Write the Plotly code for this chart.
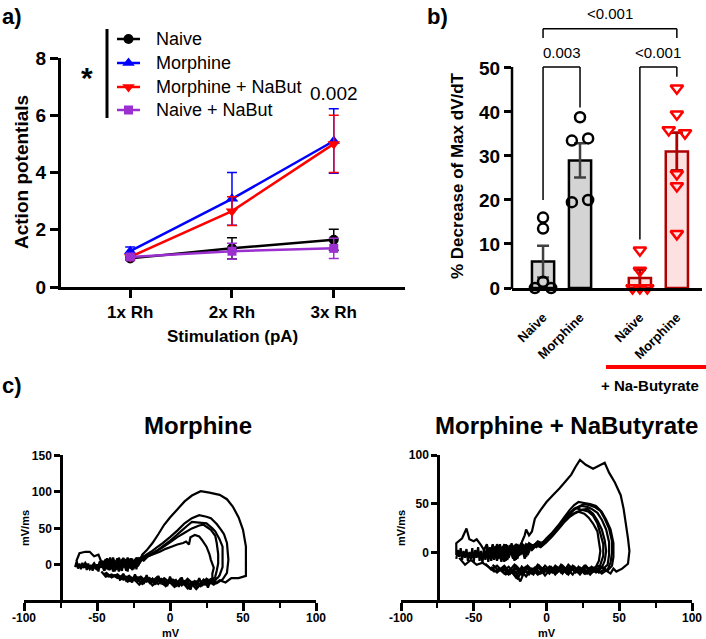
import plotly.graph_objects as go

W, H = 706, 639
def P(x): return x / W
def Q(y): return 1 - y / H

FONT = "Liberation Sans, Arial, Helvetica, sans-serif"

# ---------------- Panel a data ----------------
stim_pos = [1, 2, 3]
stim_labels = ["1x Rh", "2x Rh", "3x Rh"]
naive_y = [1.0, 1.35, 1.65]
naive_err = [0.05, 0.37, 0.37]
morph_y = [1.25, 3.08, 5.1]
morph_err = [0.15, 0.92, 1.13]
morphnb_y = [1.05, 2.65, 5.0]
morphnb_err = [0.1, 0.5, 1.0]
naivenb_y = [1.05, 1.25, 1.35]
naivenb_err = [0.05, 0.28, 0.35]

# ---------------- Panel b data ----------------
bar_pos = [1, 2, 3.62, 4.62]
bar_labels = ["Naive", "Morphine", "Naive", "Morphine"]
bar_mean = [6.0, 29.0, 2.3, 31.0]
bar_sem = [3.6, 3.9, 1.9, 4.3]
naive_pts_x = [0.78, 1.0, 1.22, 1.0, 1.0]
naive_pts_y = [0.0, 1.4, 0.0, 13.5, 16.0]
morph_pts_x = [1.78, 2.22, 2.0, 1.78, 2.22]
morph_pts_y = [33.5, 34.0, 38.8, 19.5, 20.0]
naivenb_pts_x = [3.62, 3.62, 3.42, 3.62, 3.82]
naivenb_pts_y = [8.6, 4.0, 0.0, 0.0, 0.0]
morphnb_pts_x = [4.62, 4.62, 4.40, 4.84, 4.62, 4.62, 4.62]
morphnb_pts_y = [45.4, 39.5, 35.9, 35.2, 25.9, 23.2, 12.3]

# ---------------- Panel c data (phase plots, mV vs mV/ms) ----------------
mv_ticks = [-100, -50, 0, 50, 100]
mv_tick_text = ["-100", "-50", "0", "50", "100"]

L0_x = [-65,-64,-63,-62,-61,-60,-59,-58,-57,-56,-55,-54,-53,-52,-51,-50,-49,-48,-47,-46,-45,-44,-43,-42,-41,-40,-39,-38,-37,-36,-35,-34,-33,-32,-31,-30,-29,-28,-27,-26,-25,-24,-23,-22,-21]
L0_y = [-3,4,-5,2,-6,3,-4,1,-7,2,-5,0,-8,3,-6,1,-9,4,-4,6,-8,5,-6,8,-7,4,-9,7,-5,9,-8,5,-7,10,-4,6,-9,8,-5,9,-3,7,-6,10,2]

L1_x = [-63,-64,-62,-58,-55,-52,-49,-47,-45,-43,-41,-39,-37,-35,-33,-31,-29,-27,-25,-23,-21,-19,-16,-12,-8,-4,0,5,10,15,21,27,34,39,43,47,50,52,52,52,47,42,38,34,30,26,22,18,14,10,6,2,-2,-6,-10,-14,-18,-22,-26,-30,-34,-38,-42,-45]
L1_y = [-3,6,16,18,18,12,14,4,-6,9,-4,8,-7,10,-3,7,-6,9,-2,10,4,14,20,30,42,55,65,76,87,95,101,99,96,90,80,65,48,25,-2,-15,-18,-18,-24,-21,-27,-22,-28,-23,-30,-22,-26,-20,-25,-19,-24,-18,-23,-17,-22,-16,-19,-14,-16,-11]

L2_x = [-60,-58,-55,-52,-50,-48,-46,-44,-42,-40,-38,-36,-34,-32,-30,-28,-26,-24,-22,-20,-17,-13,-9,-5,0,5,10,15,20,25,28,32,35,37,39,40,39,36,32,28,24,20,16,12,8,4,0,-4,-8,-12,-16,-20,-24,-28,-32,-36,-40,-44]
L2_y = [-4,3,-6,2,-7,5,-3,8,-6,6,-2,9,-5,6,-8,5,-4,8,0,10,13,18,24,30,38,47,57,64,68,66,64,56,48,42,30,7,-11,-20,-25,-20,-27,-21,-26,-19,-28,-21,-24,-18,-26,-19,-23,-16,-21,-15,-20,-13,-17,-10]

L3_x = [-47,-45,-43,-41,-39,-37,-35,-33,-31,-29,-27,-25,-23,-21,-19,-16,-12,-8,-4,0,4,8,12,15,20,25,29,31,34,36,36,36,34,33,29,25,21,17,13,9,5,1,-3,-7,-11,-15,-19,-23,-27,-31,-35]
L3_y = [2,-8,5,-3,10,-5,4,-8,8,-2,6,-6,9,2,8,12,16,21,27,33,40,47,54,59,58,57,50,46,35,25,5,-3,-14,-17,-24,-19,-29,-22,-32,-23,-27,-21,-29,-20,-25,-19,-26,-18,-22,-17,-21]

L4_x = [-46,-44,-42,-40,-38,-36,-34,-32,-30,-28,-26,-24,-22,-20,-17,-13,-9,-5,0,5,10,15,20,23,28,31,32,33,33,32,31,27,23,19,15,11,7,3,-1,-5,-9,-13,-17,-21,-25,-29,-33]
L4_y = [-2,7,-7,3,-9,7,-1,9,-4,7,-7,4,-2,8,10,14,19,24,31,38,44,50,54,55,48,40,30,15,2,-8,-16,-26,-20,-30,-24,-27,-19,-30,-22,-26,-17,-24,-18,-27,-19,-23,-16]

L5_x = [-45,-43,-41,-39,-37,-35,-33,-31,-29,-27,-25,-23,-21,-18,-15,-11,-7,-3,1,5,9,11,13,14,17,20,22,25,27,28,30,29,29,26,22,18,15,12,8,4,0,-4,-8,-12,-16,-20,-24,-28,-32,-36,-40,-44,-47]
L5_y = [3,-5,10,-3,5,-9,8,-1,10,-5,6,-3,9,6,12,15,18,22,25,28,30,32,28,38,41,39,34,25,15,7,-4,-12,-18,-22,-24,-33,-26,-32,-22,-29,-20,-27,-21,-28,-19,-24,-16,-21,-14,-18,-13,-16,-9]

L6_x = [32,30,28,26,24,22,20,18,16,14,12,10,8,6,4,2,0,-2,-4,-6,-8,-10,-12,-14,-16,-18,-20,-22,-24,-26,-28,-30,-32,-34,-36]
L6_y = [-17,-26,-19,-31,-21,-27,-18,-29,-22,-34,-20,-28,-17,-30,-21,-26,-16,-29,-20,-25,-15,-27,-19,-24,-14,-26,-18,-22,-13,-24,-16,-21,-12,-19,-14]

R0_x = [-62,-61,-60,-59,-58,-57,-56,-55,-54,-53,-52,-51,-50,-49,-48,-47,-46,-45,-44,-43,-42,-41,-40,-39,-38,-37,-36]
R0_y = [-6,3,-4,5,-7,2,-5,4,-8,1,-6,5,-9,3,-5,6,-8,2,-10,4,-7,5,-9,6,-6,9,-3]

R1_x = [-62,-62,-58,-55,-53,-50,-48,-45,-43,-41,-39,-37,-35,-33,-31,-29,-27,-25,-23,-21,-19,-17,-15,-14,-12,-10,-8,-4,0,5,9,13,17,20,23,27,32,36,40,43,47,51,53,54,56,57,56,52,48,46,44,40,36,32,28,24,20,16,12,8,4,0,-4,-8,-12,-16,-20,-24,-28,-32,-36,-40,-44,-48,-52,-56,-60]
R1_y = [-2,10,15,25,14,12,14,8,3,9,-3,7,-5,8,-2,9,-4,7,0,9,5,11,18,24,18,22,35,44,52,60,66,73,80,88,95,90,86,89,92,82,72,59,45,35,15,2,-11,-16,-19,-16,-21,-17,-20,-15,-21,-16,-20,-14,-19,-15,-20,-16,-21,-15,-22,-17,-26,-19,-22,-17,-19,-14,-10,-12,-7,-12,-5]

R2_x = [-40,-38,-36,-34,-32,-30,-28,-26,-24,-22,-20,-18,-16,-14,-12,-9,-6,-3,0,4,8,12,16,19,22,26,30,34,38,41,44,46,46,45,42,38,34,30,26,22,18,14,10,6,2,-2,-6,-10,-14,-18,-22,-26,-30,-34,-38,-42]
R2_y = [2,-8,6,-4,9,-7,5,-3,10,-5,7,-2,9,3,10,7,12,10,15,21,28,36,44,49,52,51,50,48,42,34,24,10,-4,-13,-18,-14,-20,-15,-21,-14,-22,-16,-20,-13,-21,-15,-22,-16,-24,-17,-21,-14,-19,-13,-17,-11]

R3_x = [-39,-37,-35,-33,-31,-29,-27,-25,-23,-21,-19,-17,-15,-13,-10,-7,-4,-1,3,7,11,15,19,23,26,29,33,37,40,43,45,45,44,42,38,34,30,26,22,18,14,10,6,2,-2,-6,-10,-14,-18,-22,-26,-30,-34,-38]
R3_y = [-6,8,-3,6,-9,7,-1,8,-6,5,-3,10,1,8,4,10,8,12,18,25,32,39,45,48,50,49,47,43,35,25,12,0,-10,-17,-21,-15,-22,-16,-20,-13,-21,-15,-22,-14,-20,-14,-21,-15,-29,-18,-22,-15,-20,-14]

R4_x = [-38,-36,-34,-32,-30,-28,-26,-24,-22,-20,-18,-16,-14,-11,-8,-5,-2,2,6,10,14,18,21,24,28,31,35,38,41,43,43,42,39,35,31,27,23,19,15,11,7,3,-1,-5,-9,-13,-17,-21,-25,-29,-33,-37]
R4_y = [4,-7,9,-2,7,-8,6,-1,8,-6,6,-1,9,6,9,7,11,16,23,30,37,43,46,48,47,45,41,34,24,11,-2,-12,-16,-13,-19,-14,-22,-15,-19,-13,-20,-16,-23,-15,-19,-13,-22,-16,-20,-13,-18,-12]

R5_x = [-37,-35,-33,-31,-29,-27,-25,-23,-21,-19,-17,-15,-13,-10,-7,-4,0,4,8,12,16,20,24,28,32,35,38,40,41,40,38,35,31,27,23,19,15,11,7,3,-1,-5,-9,-13,-17,-21,-25,-29,-33]
R5_y = [-4,7,-6,4,-9,8,-2,6,-7,8,0,7,-2,8,6,10,13,19,26,33,40,46,44,45,40,33,24,13,2,-8,-15,-19,-14,-21,-15,-18,-12,-21,-14,-19,-13,-21,-16,-20,-14,-25,-17,-21,-15]

R6_x = [-36,-34,-32,-30,-28,-26,-24,-22,-20,-18,-16,-14,-12,-9,-6,-3,1,5,9,13,17,21,25,29,32,35,37,39,39,37,35,31,27,23,19,15,11,7,3,-1,-5,-9,-13,-17,-21,-25,-29]
R6_y = [3,-8,7,-3,9,-5,5,-8,9,-2,6,-4,8,5,10,9,14,20,27,34,39,42,44,42,38,30,20,9,-3,-12,-17,-20,-13,-19,-14,-22,-16,-20,-14,-19,-13,-22,-15,-19,-13,-21,-14]

R7_x = [-35,-33,-31,-29,-27,-25,-23,-21,-19,-17,-15,-13,-10,-7,-4,0,4,8,12,16,19,22,26,29,32,35,36,37,36,34,30,26,22,18,14,10,6,2,-2,-6,-10,-14,-18,-22,-26]
R7_y = [-5,6,-4,8,-7,3,-5,9,-1,7,-6,9,3,8,6,11,17,24,31,37,40,42,40,36,30,22,12,2,-8,-14,-18,-13,-20,-14,-18,-12,-21,-15,-18,-12,-20,-14,-18,-12,-19]

left_loops = [(L0_x, L0_y), (L1_x, L1_y), (L2_x, L2_y), (L3_x, L3_y), (L4_x, L4_y),
              (L5_x, L5_y), (L6_x, L6_y)]
right_loops = [(R0_x, R0_y), (R1_x, R1_y), (R2_x, R2_y), (R3_x, R3_y), (R4_x, R4_y),
               (R5_x, R5_y), (R6_x, R6_y), (R7_x, R7_y)]

# ---------------- Figure ----------------
fig = go.Figure()

series = [
    ("Naive", naive_y, naive_err, "black", "circle", 10),
    ("Morphine", morph_y, morph_err, "#0000ff", "triangle-up", 11),
    ("Morphine + NaBut", morphnb_y, morphnb_err, "#ff0000", "triangle-down", 11),
    ("Naive + NaBut", naivenb_y, naivenb_err, "#9b2fd0", "square", 9),
]
for name, ys, es, col, sym, sz in series:
    fig.add_trace(go.Scatter(
        x=stim_pos, y=ys, name=name, mode="lines+markers",
        line=dict(color=col, width=2.5),
        marker=dict(symbol=sym, size=sz, color=col),
        error_y=dict(type="data", array=es, visible=True, color=col, thickness=1.5, width=5),
        xaxis="x", yaxis="y", showlegend=False))

# panel b bars
fig.add_trace(go.Bar(
    x=bar_pos, y=bar_mean, width=0.6,
    marker=dict(color=["#d4d4d4", "#d4d4d4", "#fde0e0", "#fde0e0"],
                line=dict(color=["black", "black", "#b00000", "#b00000"], width=2.5)),
    error_y=dict(type="data", array=bar_sem, visible=True, color="#404040", thickness=2.5, width=6),
    xaxis="x2", yaxis="y2", showlegend=False))
fig.add_trace(go.Scatter(
    x=bar_pos[2:], y=bar_mean[2:], mode="markers", marker=dict(size=1, color="rgba(0,0,0,0)"),
    error_y=dict(type="data", array=bar_sem[2:], visible=True, color="#b00000", thickness=2.5, width=6),
    xaxis="x2", yaxis="y2", showlegend=False))

for xs, ys in [(naive_pts_x, naive_pts_y), (morph_pts_x, morph_pts_y)]:
    fig.add_trace(go.Scatter(x=xs, y=ys, mode="markers",
                             marker=dict(symbol="circle-open", size=10, color="black", line=dict(width=2.5)),
                             xaxis="x2", yaxis="y2", showlegend=False, cliponaxis=False))
for xs, ys in [(naivenb_pts_x, naivenb_pts_y), (morphnb_pts_x, morphnb_pts_y)]:
    fig.add_trace(go.Scatter(x=xs, y=ys, mode="markers",
                             marker=dict(symbol="triangle-down-open", size=11, color="#ff0000", line=dict(width=2.5)),
                             xaxis="x2", yaxis="y2", showlegend=False, cliponaxis=False))

for xs, ys in left_loops:
    fig.add_trace(go.Scatter(x=xs, y=ys, mode="lines", line=dict(color="black", width=2.2, simplify=False),
                             xaxis="x3", yaxis="y3", showlegend=False))
for xs, ys in right_loops:
    fig.add_trace(go.Scatter(x=xs, y=ys, mode="lines", line=dict(color="black", width=2.2, simplify=False),
                             xaxis="x4", yaxis="y4", showlegend=False))

# legend for panel a, drawn on a hidden pixel-unit overlay axis
legend_rows = [39, 63, 87, 110]
for (name, ys, es, col, sym, sz), row in zip(series, legend_rows):
    fig.add_trace(go.Scatter(x=[117, 140], y=[row, row], mode="lines", line=dict(color=col, width=2.5),
                             xaxis="x5", yaxis="y5", showlegend=False, hoverinfo="skip"))
    fig.add_trace(go.Scatter(x=[128.5], y=[row], mode="markers", marker=dict(symbol=sym, size=sz, color=col),
                             xaxis="x5", yaxis="y5", showlegend=False, hoverinfo="skip", cliponaxis=False))

ax_common = dict(showgrid=False, zeroline=False, showline=True, linecolor="black", ticks="outside",
                 tickcolor="black", automargin=False)

fig.update_layout(
    template="none",
    width=W, height=H, margin=dict(l=0, r=0, t=0, b=0, pad=0), autosize=False,
    paper_bgcolor="white", plot_bgcolor="rgba(0,0,0,0)",
    font=dict(family=FONT, color="black"),
    barmode="overlay", showlegend=False,
    xaxis=dict(**ax_common, domain=[P(61), P(405)], range=[0.32, 3.7], anchor="y",
               tickvals=stim_pos, ticktext=stim_labels, linewidth=3, tickwidth=3, ticklen=8,
               tickfont=dict(size=17, weight="bold")),
    yaxis=dict(**ax_common, domain=[Q(287), Q(58)], range=[0, 8], anchor="x",
               tickvals=[0, 2, 4, 6, 8], linewidth=3, tickwidth=3, ticklen=8,
               tickfont=dict(size=19, weight="bold")),
    xaxis2=dict(showgrid=False, zeroline=False, showline=True, linecolor="black", linewidth=2.5,
                automargin=False,
                domain=[P(512), P(702)], range=[0.16, 5.3], anchor="y2",
                tickvals=bar_pos, ticktext=bar_labels, tickangle=-45, ticks="",
                ticklabelstandoff=14,
                tickfont=dict(size=13, weight="bold")),
    yaxis2=dict(showgrid=False, zeroline=False, showline=False, ticks="outside", tickcolor="black",
                automargin=False,
                domain=[Q(288), Q(20)], range=[0, 60.9], anchor="x2",
                tickvals=[0, 10, 20, 30, 40, 50], tickwidth=2.5, ticklen=7,
                tickfont=dict(size=19, weight="bold")),
    xaxis3=dict(**ax_common, domain=[P(24), P(316)], range=[-100, 100], anchor="y3",
                tickvals=mv_ticks, ticktext=mv_tick_text, linewidth=2.5, tickwidth=2.5, ticklen=8,
                ticklabelstandoff=-3,
                minor=dict(dtick=25, tick0=-100, ticks="outside", ticklen=5, tickwidth=2, tickcolor="black"),
                tickfont=dict(size=12, weight="bold")),
    yaxis3=dict(**ax_common, domain=[Q(600), Q(455)], range=[-48, 150.5], anchor="free", position=P(61),
                tickvals=[0, 50, 100, 150], linewidth=2.5, tickwidth=2.5, ticklen=6,
                tickfont=dict(size=12, weight="bold")),
    xaxis4=dict(**ax_common, domain=[P(401), P(692)], range=[-100, 100], anchor="y4",
                tickvals=mv_ticks, ticktext=mv_tick_text, linewidth=2.5, tickwidth=2.5, ticklen=8,
                ticklabelstandoff=-3,
                minor=dict(dtick=25, tick0=-100, ticks="outside", ticklen=5, tickwidth=2, tickcolor="black"),
                tickfont=dict(size=12, weight="bold")),
    yaxis4=dict(**ax_common, domain=[Q(600), Q(455)], range=[-48, 100], anchor="free", position=P(438),
                tickvals=[0, 50, 100], linewidth=2.5, tickwidth=2.5, ticklen=6,
                tickfont=dict(size=12, weight="bold")),
    xaxis5=dict(domain=[0, 1], range=[0, W], visible=False, anchor="y5", automargin=False, fixedrange=True),
    yaxis5=dict(domain=[0, 1], range=[H, 0], visible=False, anchor="x5", automargin=False, fixedrange=True),
)

def ann(text, x, y, size, bold=False, angle=0, xanchor="center", xref="paper", yref="paper"):
    fig.add_annotation(text=text, x=x, y=y, xref=xref, yref=yref, showarrow=False,
                       font=dict(size=size, family=FONT, color="black", weight="bold" if bold else "normal"),
                       textangle=angle, xanchor=xanchor, yanchor="middle")

for (name, *_), row in zip(series, legend_rows):
    ann(name, P(154), Q(row), 18, xanchor="left")

ann("a)", P(0), Q(16), 22, True, xanchor="left")
ann("b)", P(437), Q(16), 22, True)
ann("c)", P(0), Q(386), 22, True, xanchor="left")
ann("*", P(87), Q(78), 30, True)
ann("0.002", P(334), Q(93), 19)
ann("Action potentials", P(21), Q(172), 19, True, angle=-90)
ann("Stimulation (pA)", P(232), Q(337), 17, True)
ann("% Decrease of Max dV/dT", P(457), Q(176), 17, True, angle=-90)
ann("0.003", 1.5, Q(53), 15, xref="x2")
ann("<0.001", 4.12, Q(53), 15, xref="x2")
ann("<0.001", 2.81, Q(14), 15, xref="x2")
ann("+ Na-Butyrate", P(650), Q(385), 15, True)
ann("Morphine", P(198), Q(425), 24, True)
ann("Morphine + NaButyrate", P(566), Q(425), 24, True)
ann("mV", P(171), Q(633), 11, True)
ann("mV/ms", P(25), Q(528), 11, True, angle=-90)
ann("mV", P(547), Q(633), 11, True)
ann("mV/ms", P(401), Q(528), 11, True, angle=-90)

def line(x0, y0, x1, y1, color="black", width=2, xref="paper", yref="paper"):
    fig.add_shape(type="line", x0=x0, y0=y0, x1=x1, y1=y1, xref=xref, yref=yref,
                  line=dict(color=color, width=width))

line(P(107), Q(29), P(107), Q(118), width=3)
line(P(512), Q(289), P(512), Q(67), width=2.5)
line(P(606), Q(367), P(706), Q(367), color="#ff0000", width=4)

brk = [(1, 2, 50.2, 20.0, 41.0), (3.62, 4.62, 50.2, 11.0, 48.0), (1, 4.62, 58.9, 56.8, 56.8)]
for xa, xb, top, la, lb in brk:
    line(xa, la, xa, top, width=1.5, xref="x2", yref="y2")
    line(xa, top, xb, top, width=1.5, xref="x2", yref="y2")
    line(xb, top, xb, lb, width=1.5, xref="x2", yref="y2")

fig.write_html("out.html", config={"displayModeBar": False},
               post_script="document.body.style.margin='0';document.body.style.overflow='hidden';")
